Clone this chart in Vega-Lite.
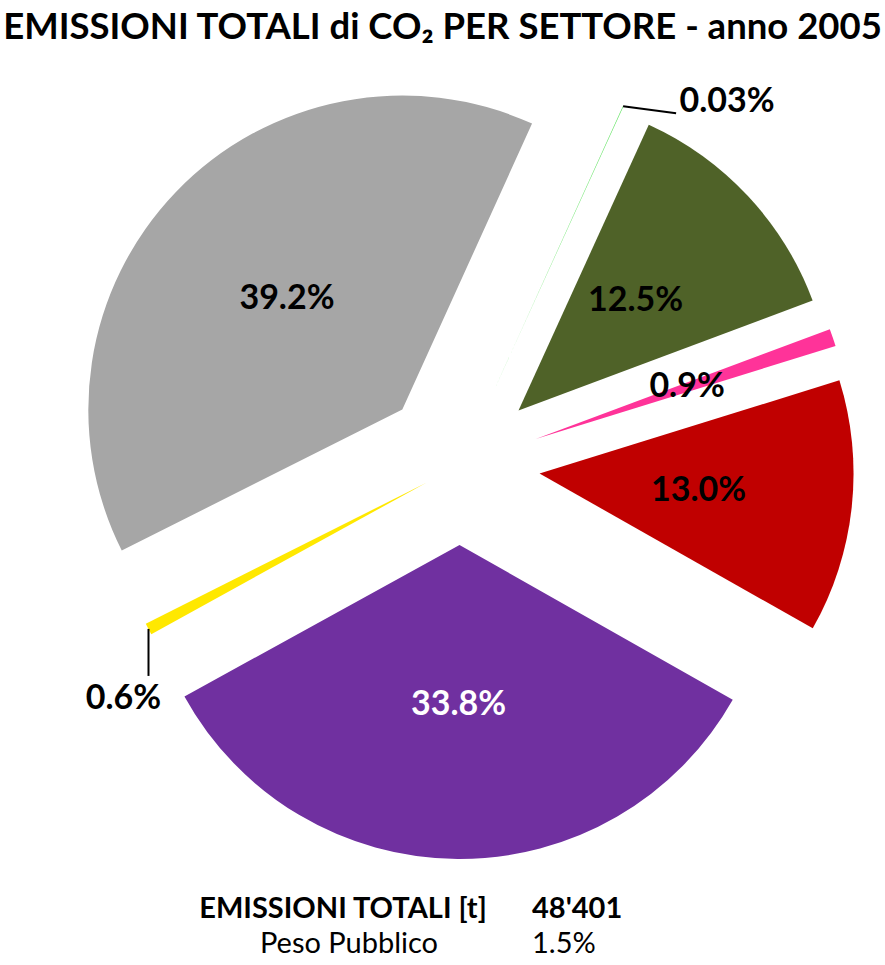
{
  "$schema": "https://vega.github.io/schema/vega-lite/v6.json",
  "width": 885,
  "height": 910,
  "autosize": {"type": "none"},
  "padding": {"top": 55, "left": 0, "right": 0, "bottom": 0},
  "background": "white",
  "title": {
    "text": "EMISSIONI TOTALI di CO₂ PER SETTORE - anno 2005",
    "font": "Lato",
    "fontSize": 36.5,
    "fontWeight": "bold",
    "color": "black",
    "anchor": "middle",
    "frame": "group",
    "offset": 9
  },
  "config": {"view": {"stroke": null}},
  "datasets": {
    "settori": [
      {"settore": "Illuminazione pubblica", "quota": 0.03, "ordine": 1},
      {"settore": "Terziario", "quota": 12.5, "ordine": 2},
      {"settore": "Edifici pubblici", "quota": 0.9, "ordine": 3},
      {"settore": "Industria", "quota": 13.0, "ordine": 4},
      {"settore": "Residenziale", "quota": 33.8, "ordine": 5},
      {"settore": "Parco auto comunale", "quota": 0.6, "ordine": 6},
      {"settore": "Trasporti", "quota": 39.2, "ordine": 7}
    ],
    "riepilogo": [
      {"voce": "EMISSIONI TOTALI [t]", "valore": "48'401", "riga": 1},
      {"voce": "Peso Pubblico", "valore": "1.5%", "riga": 2}
    ]
  },
  "layer": [
    {
      "data": {"name": "settori"},
      "transform": [
        {"joinaggregate": [{"op": "sum", "field": "quota", "as": "totale"}]},
        {"window": [{"op": "sum", "field": "quota", "as": "cumulata"}], "sort": [{"field": "ordine", "order": "ascending"}], "frame": [null, 0]},
        {"calculate": "0.4259 + 2*PI*(datum.cumulata - datum.quota)/datum.totale", "as": "a0"},
        {"calculate": "0.4259 + 2*PI*datum.cumulata/datum.totale", "as": "a1"},
        {"calculate": "(datum.a0 + datum.a1)/2", "as": "am"},
        {"calculate": "datum.settore === 'Parco auto comunale' ? 38 : 80", "as": "esplosione"},
        {"calculate": "datum.esplosione*sin(datum.am)", "as": "ex"},
        {"calculate": "-datum.esplosione*cos(datum.am)", "as": "ey"},
        {"calculate": "(datum.esplosione+160)*sin(datum.am)", "as": "lx"},
        {"calculate": "-(datum.esplosione+160)*cos(datum.am)", "as": "ly"},
        {"calculate": "(datum.esplosione+314)*sin(datum.am)", "as": "tx"},
        {"calculate": "-(datum.esplosione+314)*cos(datum.am)", "as": "ty"},
        {"calculate": "sin(datum.am) > 0 ? datum.tx + 53 : datum.tx", "as": "gx"},
        {"calculate": "sin(datum.am) > 0 ? datum.ty + 7 : datum.ty + 47", "as": "gy"},
        {"calculate": "sin(datum.am) > 0 ? datum.tx + 104 : datum.tx - 25", "as": "ox"},
        {"calculate": "sin(datum.am) > 0 ? datum.ty - 4 : datum.ty + 70", "as": "oy"},
        {"calculate": "(datum.quota < 0.1 ? format(datum.quota, '.2f') : format(datum.quota, '.1f')) + '%'", "as": "etichetta"}
      ],
      "layer": [
        {
          "mark": {"type": "arc", "outerRadius": 314, "innerRadius": 0, "strokeWidth": 0},
          "encoding": {
            "theta": {"field": "a0", "type": "quantitative", "scale": null, "stack": null},
            "theta2": {"field": "a1"},
            "x": {"field": "ex", "type": "quantitative", "scale": {"domain": [-460, 425], "nice": false, "zero": false}, "axis": null},
            "y": {"field": "ey", "type": "quantitative", "scale": {"domain": [-410, 500], "nice": false, "zero": false, "reverse": true}, "axis": null},
            "color": {
              "field": "settore",
              "type": "nominal",
              "scale": {
                "domain": ["Illuminazione pubblica", "Terziario", "Edifici pubblici", "Industria", "Residenziale", "Parco auto comunale", "Trasporti"],
                "range": ["#55E055", "#4F6228", "#FF3399", "#C00000", "#7030A0", "#FFE800", "#A6A6A6"]
              },
              "legend": null
            }
          }
        },
        {
          "transform": [{"filter": "datum.quota < 0.8"}],
          "mark": {"type": "rule", "color": "black", "strokeWidth": 2},
          "encoding": {
            "x": {"field": "tx", "type": "quantitative", "scale": {"domain": [-460, 425], "nice": false, "zero": false}, "axis": null},
            "y": {"field": "ty", "type": "quantitative", "scale": {"domain": [-410, 500], "nice": false, "zero": false, "reverse": true}, "axis": null},
            "x2": {"field": "gx"},
            "y2": {"field": "gy"}
          }
        },
        {
          "transform": [{"filter": "datum.quota >= 0.8"}],
          "mark": {"type": "text", "font": "Lato", "fontSize": 34, "fontWeight": "bold", "align": "center", "baseline": "middle"},
          "encoding": {
            "x": {"field": "lx", "type": "quantitative", "scale": {"domain": [-460, 425], "nice": false, "zero": false}, "axis": null},
            "y": {"field": "ly", "type": "quantitative", "scale": {"domain": [-410, 500], "nice": false, "zero": false, "reverse": true}, "axis": null},
            "text": {"field": "etichetta"},
            "color": {"condition": {"test": "datum.settore === 'Residenziale'", "value": "white"}, "value": "black"}
          }
        },
        {
          "transform": [{"filter": "datum.quota < 0.8"}],
          "mark": {"type": "text", "font": "Lato", "fontSize": 34, "fontWeight": "bold", "align": "center", "baseline": "middle", "color": "black"},
          "encoding": {
            "x": {"field": "ox", "type": "quantitative", "scale": {"domain": [-460, 425], "nice": false, "zero": false}, "axis": null},
            "y": {"field": "oy", "type": "quantitative", "scale": {"domain": [-410, 500], "nice": false, "zero": false, "reverse": true}, "axis": null},
            "text": {"field": "etichetta"}
          }
        }
      ]
    },
    {
      "data": {"name": "riepilogo"},
      "layer": [
        {
          "transform": [{"filter": "datum.riga === 1"}],
          "mark": {"type": "text", "font": "Lato", "fontSize": 29, "fontWeight": "bold", "align": "center", "baseline": "middle", "color": "black"},
          "encoding": {
            "x": {"datum": -117, "type": "quantitative", "scale": {"domain": [-460, 425], "nice": false, "zero": false}, "axis": null},
            "y": {"datum": 444, "type": "quantitative", "scale": {"domain": [-410, 500], "nice": false, "zero": false, "reverse": true}, "axis": null},
            "text": {"field": "voce"}
          }
        },
        {
          "transform": [{"filter": "datum.riga === 1"}],
          "mark": {"type": "text", "font": "Lato", "fontSize": 29, "fontWeight": "bold", "align": "left", "baseline": "middle", "color": "black"},
          "encoding": {
            "x": {"datum": 72, "type": "quantitative", "scale": {"domain": [-460, 425], "nice": false, "zero": false}, "axis": null},
            "y": {"datum": 444, "type": "quantitative", "scale": {"domain": [-410, 500], "nice": false, "zero": false, "reverse": true}, "axis": null},
            "text": {"field": "valore"}
          }
        },
        {
          "transform": [{"filter": "datum.riga === 2"}],
          "mark": {"type": "text", "font": "Lato", "fontSize": 29, "fontWeight": "normal", "align": "center", "baseline": "middle", "color": "black"},
          "encoding": {
            "x": {"datum": -111, "type": "quantitative", "scale": {"domain": [-460, 425], "nice": false, "zero": false}, "axis": null},
            "y": {"datum": 479, "type": "quantitative", "scale": {"domain": [-410, 500], "nice": false, "zero": false, "reverse": true}, "axis": null},
            "text": {"field": "voce"}
          }
        },
        {
          "transform": [{"filter": "datum.riga === 2"}],
          "mark": {"type": "text", "font": "Lato", "fontSize": 29, "fontWeight": "normal", "align": "left", "baseline": "middle", "color": "black"},
          "encoding": {
            "x": {"datum": 72, "type": "quantitative", "scale": {"domain": [-460, 425], "nice": false, "zero": false}, "axis": null},
            "y": {"datum": 479, "type": "quantitative", "scale": {"domain": [-410, 500], "nice": false, "zero": false, "reverse": true}, "axis": null},
            "text": {"field": "valore"}
          }
        }
      ]
    }
  ]
}
